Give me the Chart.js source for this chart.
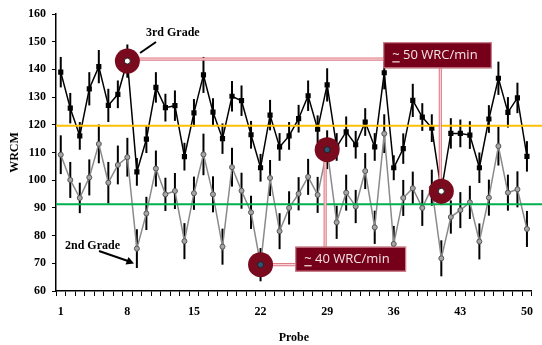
<!DOCTYPE html>
<html>
<head>
<meta charset="utf-8">
<script src="https://cdn.jsdelivr.net/npm/chart.js@4.4.1/dist/chart.umd.min.js"></script>
<style>
  html, body { margin: 0; padding: 0; background: #fff; }
  canvas { display: block; }
</style>
</head>
<body>
<canvas id="chart" width="542" height="345"></canvas>
<script>
const probes = Array.from({ length: 50 }, (_, i) => String(i + 1));
const shownTicks = ["1", "8", "15", "22", "29", "36", "43", "50"];

const thirdGrade = [139, 126, 116, 133, 141, 127, 131, 143, 103, 114.8, 133.5, 126.2, 126.9, 108.5, 124.3, 138, 124.6, 115, 130.3, 128.7,
  116.4, 104.5, 123.5, 112, 116, 122.2, 130.5, 118.4, 134.4, 112, 117.5, 112.8, 121, 112, 138.8, 104.5, 111.4, 128.8, 122.8, 118.8,
  96, 116.9, 116.9, 116.3, 104.5, 122.1, 136.8, 124.5, 129.7, 108.6];
const thirdErr = [5.5, 5.5, 5, 6, 6, 6, 5, 6, 5, 5, 5.5, 5, 5.5, 5, 5, 6.5, 5, 5.5, 5.5, 5.5,
  5, 5, 5.5, 5, 5, 5, 5.5, 5, 6, 5, 5.5, 5, 5, 5, 6, 4.5, 5.5, 6, 5, 5,
  5, 5.5, 5, 5, 5.5, 5, 6, 5.5, 5.5, 5.5];

const secondGrade = [109.2, 100.1, 93.6, 101, 113.1, 99.1, 105.5, 108.3, 75.3, 88, 104.2, 94.9, 96.1, 78, 95.3, 109.3, 94.9, 76, 104.7, 96.2,
  88.4, 69.5, 100.8, 81.6, 90, 95.1, 101.2, 94.7, 111, 84.8, 95.5, 90.5, 103.3, 83, 116.8, 77, 93.6, 97.1, 90, 97.3,
  71.8, 86.7, 89.2, 92, 77.9, 93.7, 112.3, 95.5, 96.7, 82.4];
const secondErr = [7, 6.5, 5.5, 6.5, 7, 7.5, 7, 7, 7, 6, 6.5, 6, 6.5, 6.5, 6, 7.5, 6.5, 6.5, 7, 6.5,
  6, 6, 6.5, 6.5, 6, 6, 6.5, 6.5, 7, 6, 6.5, 6, 6.5, 6, 7, 6.5, 6.5, 6, 6.5, 6.5,
  6.5, 6, 6.5, 6, 6.5, 6.5, 7, 6.5, 6.5, 6.5];

const upperLine = 119.7;
const lowerLine = 91.3;

const serif = "'Liberation Serif', 'Times New Roman', serif";
const maroon = "#7a0a1e";

function seriesPoint(chart, dsIndex, probe) {
  const x = chart.scales.x.getPixelForValue(probe - 1);
  const data = dsIndex === 0 ? thirdGrade : secondGrade;
  const y = chart.scales.y.getPixelForValue(data[probe - 1]);
  return { x, y };
}

const errorBars = {
  id: "errorBars",
  beforeDatasetsDraw(chart) {
    const { ctx, scales: { x, y } } = chart;
    ctx.save();
    ctx.strokeStyle = "#000";
    ctx.lineWidth = 2;
    [[thirdGrade, thirdErr], [secondGrade, secondErr]].forEach(([vals, errs]) => {
      vals.forEach((v, i) => {
        const px = x.getPixelForValue(i);
        ctx.beginPath();
        ctx.moveTo(px, y.getPixelForValue(v - errs[i]));
        ctx.lineTo(px, y.getPixelForValue(v + errs[i]));
        ctx.stroke();
      });
    });
    ctx.restore();
  }
};

function doubleLine(ctx, x1, y1, x2, y2) {
  ctx.beginPath();
  ctx.moveTo(x1, y1);
  ctx.lineTo(x2, y2);
  ctx.strokeStyle = "#e07c88";
  ctx.lineWidth = 3.2;
  ctx.stroke();
  ctx.strokeStyle = "#fbe6e8";
  ctx.lineWidth = 1;
  ctx.stroke();
}

function drawBox(ctx, chart, box, text) {
  const { x, y } = chart.scales;
  const left = x.getPixelForValue(box.x0);
  const right = x.getPixelForValue(box.x1);
  const top = y.getPixelForValue(box.y0);
  const bottom = y.getPixelForValue(box.y1);
  ctx.fillStyle = "#76001a";
  ctx.fillRect(left, top, right - left, bottom - top);
  ctx.strokeStyle = "#d9909a";
  ctx.lineWidth = 1;
  ctx.strokeRect(left + 0.5, top + 0.5, right - left - 1, bottom - top - 1);
  ctx.fillStyle = "#f4e4e6";
  ctx.font = "13px 'Open Sans', 'Noto Sans', sans-serif";
  ctx.textBaseline = "middle";
  ctx.textAlign = "left";
  const tx = left + 9;
  const ty = (top + bottom) / 2;
  ctx.fillText(text, tx, ty);
  const tw = ctx.measureText("~").width;
  ctx.fillRect(tx, ty + 6, tw, 1.2);
}

function drawMarker(ctx, p, inner) {
  ctx.beginPath();
  ctx.arc(p.x, p.y, 12.5, 0, Math.PI * 2);
  ctx.fillStyle = maroon;
  ctx.fill();
  ctx.beginPath();
  ctx.arc(p.x, p.y, 3, 0, Math.PI * 2);
  ctx.fillStyle = inner;
  ctx.fill();
  ctx.strokeStyle = "#222";
  ctx.lineWidth = 1;
  ctx.stroke();
}

const annotations = {
  id: "annotations",
  afterDraw(chart) {
    const { ctx, chartArea, scales: { x, y } } = chart;
    ctx.save();

    // reference levels
    [[upperLine, "#ffc000"], [lowerLine, "#00b050"]].forEach(([v, c]) => {
      const py = y.getPixelForValue(v);
      ctx.beginPath();
      ctx.moveTo(chartArea.left, py);
      ctx.lineTo(chart.width, py);
      ctx.strokeStyle = c;
      ctx.lineWidth = 2;
      ctx.stroke();
    });

    const box1 = { x0: 33.9, x1: 45.3, y0: 149.8, y1: 140.4 };
    const box2 = { x0: 24.65, x1: 36.3, y0: 76, y1: 67 };

    const hi3 = seriesPoint(chart, 0, 8);
    const lo3 = seriesPoint(chart, 0, 41);
    const hi2 = seriesPoint(chart, 1, 29);
    const lo2 = seriesPoint(chart, 1, 22);

    doubleLine(ctx, hi3.x, hi3.y - 2, x.getPixelForValue(box1.x0), hi3.y - 2);
    doubleLine(ctx, lo3.x - 1, y.getPixelForValue(box1.y1), lo3.x - 1, lo3.y);
    doubleLine(ctx, hi2.x - 2, hi2.y, hi2.x - 2, y.getPixelForValue(box2.y0));
    doubleLine(ctx, lo2.x, lo2.y, x.getPixelForValue(box2.x0), lo2.y);

    drawMarker(ctx, hi3, "#ffffff");
    drawMarker(ctx, lo3, "#ffffff");
    drawMarker(ctx, hi2, "#2f5577");
    drawMarker(ctx, lo2, "#2f5577");

    drawBox(ctx, chart, box1, "~ 50 WRC/min");
    drawBox(ctx, chart, box2, "~ 40 WRC/min");

    // series labels
    ctx.fillStyle = "#000";
    ctx.font = "bold 12px " + serif;
    ctx.textBaseline = "middle";
    ctx.textAlign = "left";
    ctx.fillText("3rd Grade", 146, 33);
    ctx.fillText("2nd Grade", 65, 246);

    ctx.strokeStyle = "#000";
    ctx.lineWidth = 2;
    ctx.beginPath();
    ctx.moveTo(156, 42);
    ctx.lineTo(140, 53);
    ctx.stroke();

    ctx.beginPath();
    ctx.moveTo(99, 251);
    ctx.lineTo(128, 261);
    ctx.stroke();
    ctx.beginPath();
    ctx.moveTo(134, 263.5);
    ctx.lineTo(125.5, 264.5);
    ctx.lineTo(128.5, 257);
    ctx.closePath();
    ctx.fillStyle = "#000";
    ctx.fill();

    ctx.restore();
  }
};

new Chart(document.getElementById("chart"), {
  type: "line",
  data: {
    labels: probes,
    datasets: [
      {
        label: "3rd Grade",
        data: thirdGrade,
        borderColor: "#000",
        borderWidth: 1.5,
        pointStyle: "rect",
        pointRadius: 2.6,
        pointBackgroundColor: "#000",
        pointBorderColor: "#000",
        tension: 0
      },
      {
        label: "2nd Grade",
        data: secondGrade,
        borderColor: "#8a8a8a",
        borderWidth: 1.5,
        pointStyle: "circle",
        pointRadius: 2.5,
        pointBackgroundColor: "#a6a6a6",
        pointBorderColor: "#555",
        pointBorderWidth: 1,
        tension: 0
      }
    ]
  },
  options: {
    responsive: false,
    devicePixelRatio: 1,
    animation: false,
    layout: { padding: { top: 14, right: 4, left: 4, bottom: 0 } },
    plugins: {
      legend: { display: false },
      tooltip: { enabled: false }
    },
    scales: {
      x: {
        type: "category",
        offset: true,
        grid: { offset: true, drawOnChartArea: false, tickLength: 5, color: "#000", lineWidth: 1 },
        border: { color: "#000", width: 1.5 },
        ticks: {
          autoSkip: false,
          maxRotation: 0,
          padding: 9,
          color: "#000",
          font: { family: serif, size: 12, weight: "bold" },
          callback(value, index) {
            const lab = probes[index];
            return shownTicks.includes(lab) ? lab : "";
          }
        },
        title: {
          display: true,
          text: "Probe",
          color: "#000",
          font: { family: serif, size: 12, weight: "bold" },
          padding: { top: 0, bottom: 0 }
        },
        afterFit(scale) { scale.height = 54; }
      },
      y: {
        min: 60,
        max: 160,
        grid: { drawOnChartArea: false, tickLength: 4, color: "#000" },
        border: { color: "#000", width: 1.5 },
        ticks: {
          stepSize: 10,
          padding: 6,
          color: "#000",
          font: { family: serif, size: 12, weight: "bold" }
        },
        title: {
          display: true,
          text: "WRCM",
          color: "#000",
          font: { family: serif, size: 12, weight: "bold" },
          padding: { top: 4, bottom: 0 }
        },
        afterFit(scale) { scale.width = 52; }
      }
    }
  },
  plugins: [errorBars, annotations]
});
</script>
</body>
</html>
